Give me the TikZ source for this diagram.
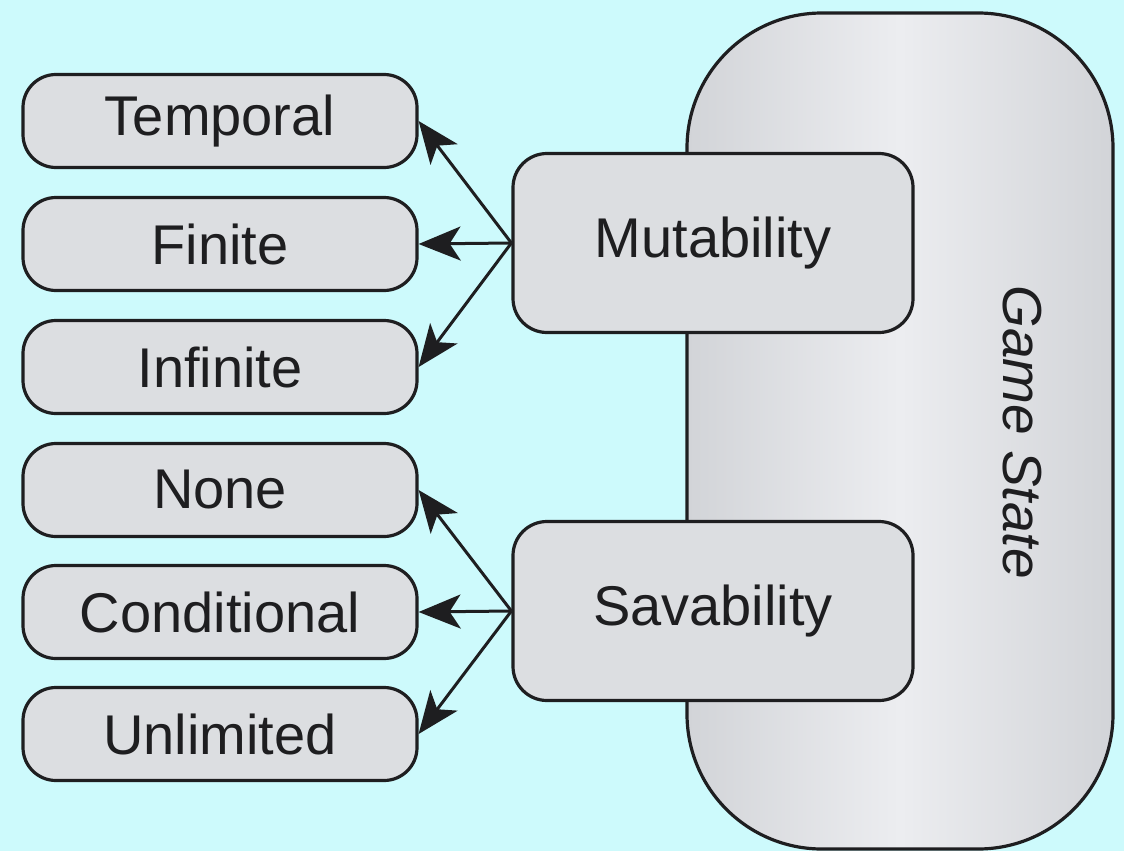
\documentclass[tikz,border=0pt]{standalone}
\usepackage{fontspec}
\setmainfont{Liberation Sans}
\usetikzlibrary{arrows.meta}
\definecolor{bgcyan}{RGB}{205,250,252}
\definecolor{boxgray}{RGB}{220,222,225}
\definecolor{edgegray}{RGB}{210,212,216}
\definecolor{midgray}{RGB}{236,237,240}
\definecolor{ink}{RGB}{30,30,32}
\tikzset{
  every node/.style={font=\fontsize{56}{66}\selectfont, text=ink},
  leaf/.style={draw=ink, line width=3.2pt, fill=boxgray, rounded corners=33pt,
    minimum width=394pt, minimum height=93pt, inner sep=0pt},
  facet/.style={draw=ink, line width=3.2pt, fill=boxgray, rounded corners=34pt,
    minimum width=400pt, minimum height=179pt, inner sep=0pt},
  arr/.style={draw=ink, line width=3pt,
    -{Stealth[length=42pt, width=34pt, inset=11pt]}}
}
\begin{document}
\begin{tikzpicture}[x=1pt, y=-1pt]
  \fill[bgcyan] (0,0) rectangle (1124,851);
  \useasboundingbox (0,0) rectangle (1124,851);

  % the large rounded state container
  \node[draw=ink, line width=3.2pt, rounded corners=135pt,
        minimum width=426pt, minimum height=836pt, inner sep=0pt,
        left color=edgegray, right color=edgegray, middle color=midgray]
        (state) at (900,431) {};
  \node[rotate=-90, font=\fontsize{55}{66}\selectfont\itshape]
        (statelabel) at (1022,432) {Game State};

  % the two facets
  \node[facet] (mut) at (713,243) {Mutability};
  \node[facet] (sav) at (713,611) {Savability};

  % leaf categories
  \node[leaf] (temporal) at (220,121) {Temporal};
  \node[leaf] (finite)   at (220,244) {Finite};
  \node[leaf] (infinite) at (220,367) {Infinite};
  \node[leaf] (none)     at (220,490) {None};
  \node[leaf] (cond)     at (220,612) {Conditional};
  \node[leaf] (unlim)    at (220,734) {Unlimited};

  % connectors
  \draw[arr] (mut.west) -- (temporal.east);
  \draw[arr] (mut.west) -- (finite.east);
  \draw[arr] (mut.west) -- (infinite.east);
  \draw[arr] (sav.west) -- (none.east);
  \draw[arr] (sav.west) -- (cond.east);
  \draw[arr] (sav.west) -- (unlim.east);
\end{tikzpicture}
\end{document}
